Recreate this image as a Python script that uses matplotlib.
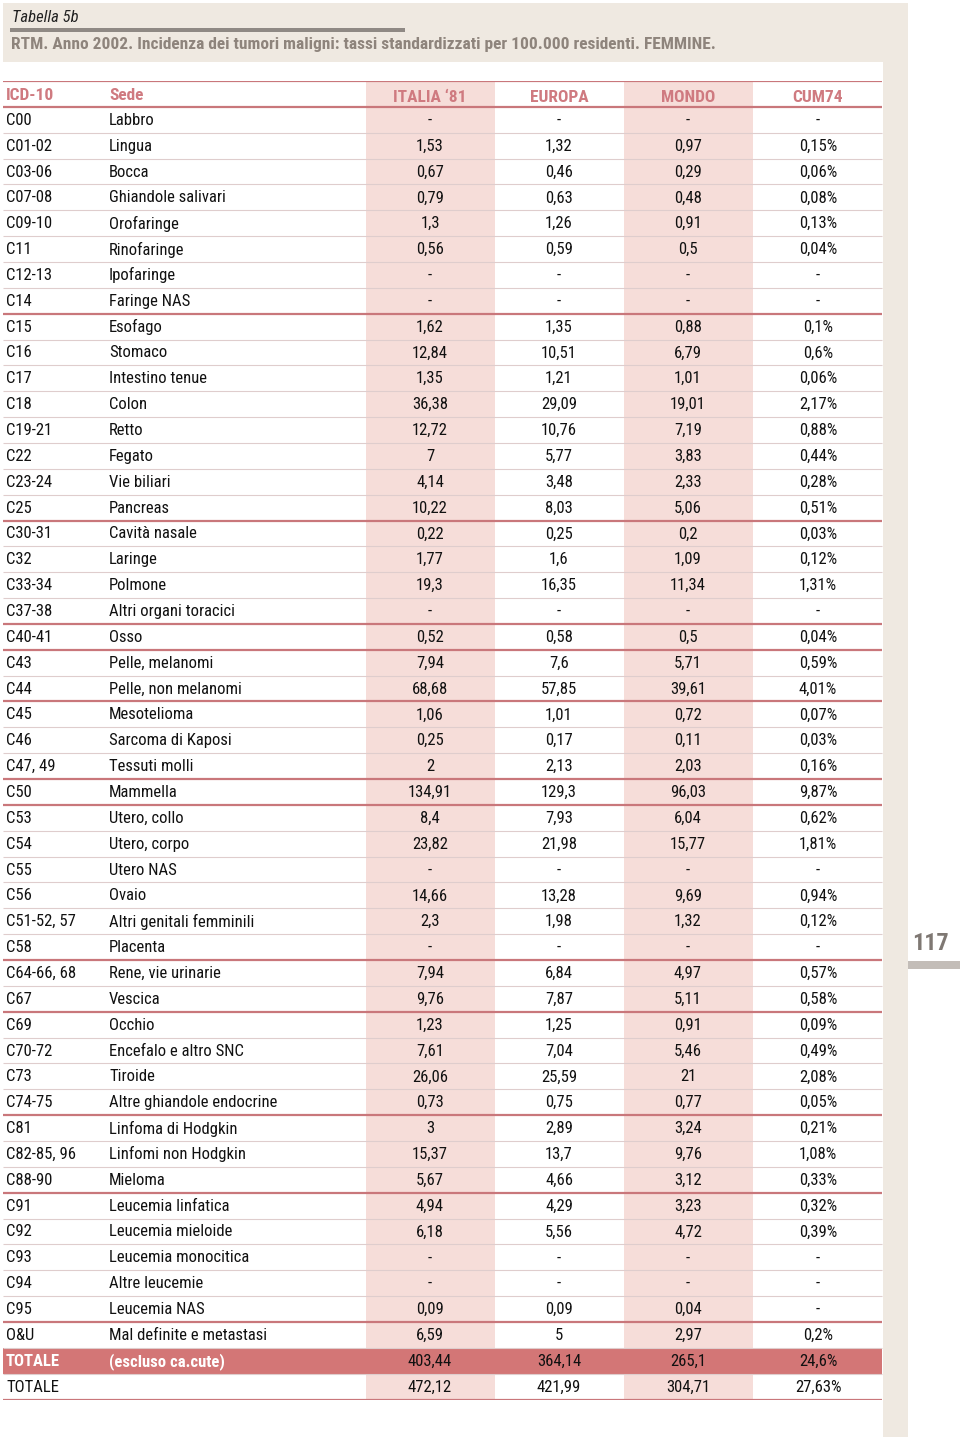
import matplotlib
matplotlib.use('Agg')
import matplotlib.pyplot as plt
from matplotlib.patches import Rectangle
from matplotlib import font_manager

# dati della tabella (tassi standardizzati per 100.000, femmine)
codici = ['C00', 'C01-02', 'C03-06', 'C07-08', 'C09-10', 'C11', 'C12-13', 'C14', 'C15', 'C16',
          'C17', 'C18', 'C19-21', 'C22', 'C23-24', 'C25', 'C30-31', 'C32', 'C33-34', 'C37-38',
          'C40-41', 'C43', 'C44', 'C45', 'C46', 'C47, 49', 'C50', 'C53', 'C54', 'C55',
          'C56', 'C51-52, 57', 'C58', 'C64-66, 68', 'C67', 'C69', 'C70-72', 'C73', 'C74-75', 'C81',
          'C82-85, 96', 'C88-90', 'C91', 'C92', 'C93', 'C94', 'C95', 'O&U', 'TOTALE', 'TOTALE']
sedi = ['Labbro', 'Lingua', 'Bocca', 'Ghiandole salivari', 'Orofaringe', 'Rinofaringe', 'Ipofaringe',
        'Faringe NAS', 'Esofago', 'Stomaco', 'Intestino tenue', 'Colon', 'Retto', 'Fegato',
        'Vie biliari', 'Pancreas', 'Cavità nasale', 'Laringe', 'Polmone', 'Altri organi toracici',
        'Osso', 'Pelle, melanomi', 'Pelle, non melanomi', 'Mesotelioma', 'Sarcoma di Kaposi',
        'Tessuti molli', 'Mammella', 'Utero, collo', 'Utero, corpo', 'Utero NAS', 'Ovaio',
        'Altri genitali femminili', 'Placenta', 'Rene, vie urinarie', 'Vescica', 'Occhio',
        'Encefalo e altro SNC', 'Tiroide', 'Altre ghiandole endocrine', 'Linfoma di Hodgkin',
        'Linfomi non Hodgkin', 'Mieloma', 'Leucemia linfatica', 'Leucemia mieloide',
        'Leucemia monocitica', 'Altre leucemie', 'Leucemia NAS', 'Mal definite e metastasi',
        '(escluso ca.cute)', '']
italia = [None, 1.53, 0.67, 0.79, 1.3, 0.56, None, None, 1.62, 12.84, 1.35, 36.38, 12.72, 7, 4.14,
          10.22, 0.22, 1.77, 19.3, None, 0.52, 7.94, 68.68, 1.06, 0.25, 2, 134.91, 8.4, 23.82, None,
          14.66, 2.3, None, 7.94, 9.76, 1.23, 7.61, 26.06, 0.73, 3, 15.37, 5.67, 4.94, 6.18, None,
          None, 0.09, 6.59, 403.44, 472.12]
europa = [None, 1.32, 0.46, 0.63, 1.26, 0.59, None, None, 1.35, 10.51, 1.21, 29.09, 10.76, 5.77, 3.48,
          8.03, 0.25, 1.6, 16.35, None, 0.58, 7.6, 57.85, 1.01, 0.17, 2.13, 129.3, 7.93, 21.98, None,
          13.28, 1.98, None, 6.84, 7.87, 1.25, 7.04, 25.59, 0.75, 2.89, 13.7, 4.66, 4.29, 5.56, None,
          None, 0.09, 5, 364.14, 421.99]
mondo = [None, 0.97, 0.29, 0.48, 0.91, 0.5, None, None, 0.88, 6.79, 1.01, 19.01, 7.19, 3.83, 2.33,
         5.06, 0.2, 1.09, 11.34, None, 0.5, 5.71, 39.61, 0.72, 0.11, 2.03, 96.03, 6.04, 15.77, None,
         9.69, 1.32, None, 4.97, 5.11, 0.91, 5.46, 21, 0.77, 3.24, 9.76, 3.12, 3.23, 4.72, None,
         None, 0.04, 2.97, 265.1, 304.71]
cum74 = [None, 0.15, 0.06, 0.08, 0.13, 0.04, None, None, 0.1, 0.6, 0.06, 2.17, 0.88, 0.44, 0.28,
         0.51, 0.03, 0.12, 1.31, None, 0.04, 0.59, 4.01, 0.07, 0.03, 0.16, 9.87, 0.62, 1.81, None,
         0.94, 0.12, None, 0.57, 0.58, 0.09, 0.49, 2.08, 0.05, 0.21, 1.08, 0.33, 0.32, 0.39, None,
         None, None, 0.2, 24.6, 27.63]
intestazioni = ['ITALIA \u201881', 'EUROPA', 'MONDO', 'CUM74']
# righe dopo cui c'e' la linea rossa (indice 1-based)
separatori = [8, 16, 20, 21, 23, 26, 27, 33, 35, 39, 42, 47]

ROSSO = '#c9777b'
ROSA_HDR = '#cf7a80'
GRIGIO_LINEA = '#dfcdcd'
ROSA_COL = '#f6ddd9'
BEIGE = '#efe9e1'

# font stretto se c'e', altrimenti Liberation Sans (metrica Arial)
installati = {f.name for f in font_manager.fontManager.ttflist}
candidati = ['Liberation Sans Narrow', 'Roboto Condensed', 'Open Sans Condensed', 'Liberation Sans']
font = next((c for c in candidati if c in installati), 'DejaVu Sans')
plt.rcParams['font.family'] = [font, 'DejaVu Sans']
stretto = font != 'Liberation Sans'
FS = 12 if stretto else 11
HFS = 12.5 if stretto else 11


def fmt(v, perc=False):
    if v is None:
        return '-'
    s = f'{v:g}'.replace('.', ',')
    return s + '%' if perc else s


fig = plt.figure(figsize=(9.6, 14.37), dpi=100)

# sfondo e titoli (coordinate in pixel)
bg = fig.add_axes([0, 0, 1, 1])
bg.set_xlim(0, 960)
bg.set_ylim(1437, 0)
bg.axis('off')
bg.add_patch(Rectangle((3, 3), 905, 59, color=BEIGE, lw=0))
bg.add_patch(Rectangle((883, 62), 25, 1375, color=BEIGE, lw=0))
bg.add_patch(Rectangle((10, 28), 395, 4, color='#8f8984', lw=0))
bg.add_patch(Rectangle((908, 961), 52, 8, color='#c3bdb8', lw=0))
bg.text(12, 17, 'Tabella 5b', fontsize=12 if stretto else 10.3, style='italic', color='#222222', va='center')
bg.text(11, 45, 'RTM. Anno 2002. Incidenza dei tumori maligni: tassi standardizzati per 100.000 residenti. FEMMINE.',
        fontsize=12.5 if stretto else 9.8, fontweight='bold', color='#8e847c', va='center')
bg.text(912, 944, '117', fontsize=17.5, fontweight='bold', color='#7f7873', va='center')

# tabella: x in pixel, y in righe
n = len(codici)
top, bottom = 81, 1399.5
tab = fig.add_axes([0, 1 - bottom / 1437, 1, (bottom - top) / 1437])
tab.set_xlim(0, 960)
tab.set_ylim(n, -1)
tab.axis('off')

col_x = [430, 559, 688, 818]
col_w = 129
for cx in (col_x[0], col_x[2]):
    tab.add_patch(Rectangle((cx - col_w / 2, -1), col_w, n + 1, color=ROSA_COL, lw=0, zorder=0))

# riga totale escluso cute
riga_tot = n - 2
tab.add_patch(Rectangle((3, riga_tot), 879, 1, color='#d37676', lw=0, zorder=1))

for i in range(1, n):
    if i not in separatori:
        tab.hlines(i, 3, 882, color=GRIGIO_LINEA, lw=0.8, zorder=2)
for i in [-1, 0, n] + separatori:
    tab.hlines(i, 3, 882, color=ROSSO, lw=1.6, zorder=3)

tab.text(6, -0.42, 'ICD-10', fontsize=HFS, fontweight='bold', color=ROSA_HDR, va='center')
tab.text(109, -0.42, 'Sede', fontsize=HFS, fontweight='bold', color=ROSA_HDR, va='center')
for cx, h in zip(col_x, intestazioni):
    tab.text(cx, -0.38, h, fontsize=HFS, fontweight='bold', color=ROSA_HDR, va='center', ha='center')

for i in range(n):
    y = i + 0.52
    if i == riga_tot:
        tab.text(6, y, codici[i], fontsize=FS, fontweight='bold', color='white', va='center')
        tab.text(109, y, sedi[i], fontsize=FS, fontweight='bold', color='white', va='center')
    else:
        tab.text(6, y, codici[i], fontsize=FS, color='#111111', va='center')
        tab.text(109, y, sedi[i], fontsize=FS, color='#111111', va='center')
    vals = [fmt(italia[i]), fmt(europa[i]), fmt(mondo[i]), fmt(cum74[i], True)]
    for cx, v in zip(col_x, vals):
        tab.text(cx, y, v, fontsize=FS, color='#111111', va='center', ha='center')

plt.savefig('out.png', dpi=100)
plt.close()
